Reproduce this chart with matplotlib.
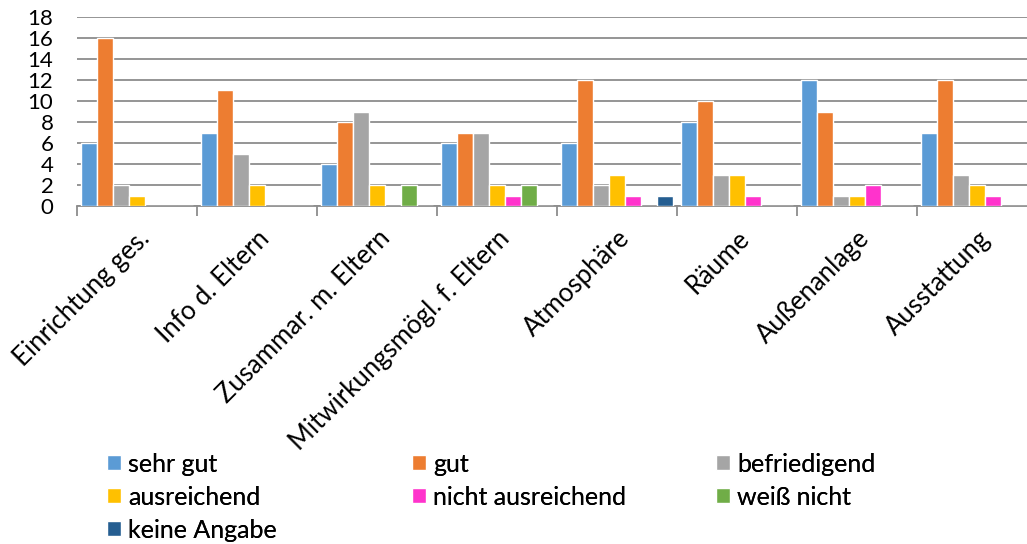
import matplotlib.pyplot as plt
import numpy as np

plt.rcParams['font.family'] = ['Lato', 'DejaVu Sans']

categories = ['Einrichtung ges.', 'Info d. Eltern', 'Zusammar. m. Eltern',
              'Mitwirkungsmögl. f. Eltern', 'Atmosphäre', 'Räume',
              'Außenanlage', 'Ausstattung']
series = ['sehr gut', 'gut', 'befriedigend', 'ausreichend',
          'nicht ausreichend', 'weiß nicht', 'keine Angabe']
sehr_gut = [6, 7, 4, 6, 6, 8, 12, 7]
gut = [16, 11, 8, 7, 12, 10, 9, 12]
befriedigend = [2, 5, 9, 7, 2, 3, 1, 3]
ausreichend = [1, 2, 2, 2, 3, 3, 1, 2]
nicht_ausreichend = [0, 0, 0, 1, 1, 1, 2, 1]
weiss_nicht = [0, 0, 2, 2, 0, 0, 0, 0]
keine_angabe = [0, 0, 0, 0, 1, 0, 0, 0]
values = [sehr_gut, gut, befriedigend, ausreichend,
          nicht_ausreichend, weiss_nicht, keine_angabe]
colors = ['#5B9BD5', '#ED7D31', '#A5A5A5', '#FFC000', '#FF33CC', '#70AD47', '#255E91']

fig = plt.figure(figsize=(10.27, 5.44), dpi=100)
ax = fig.add_axes([0.075, 0.621, 0.935, 0.348])

x = np.arange(len(categories))
slot = 0.133
handles = []
for i, (name, vals, c) in enumerate(zip(series, values, colors)):
    off = (i - 3) * slot
    h = ax.bar(x + off, vals, width=slot, color=c, edgecolor='white',
               linewidth=1.0, label=name, zorder=3)
    handles.append(h)

ax.set_xlim(-0.5, len(categories) - 0.5)
ax.set_ylim(0, 18)
ax.set_yticks(range(0, 19, 2))
ax.yaxis.grid(True, color='#8C8C8C', linewidth=1.3, zorder=0)
ax.tick_params(axis='y', length=0, labelsize=16, pad=17)
for s in ['left', 'right', 'top']:
    ax.spines[s].set_visible(False)
ax.spines['bottom'].set_color('#8C8C8C')
ax.spines['bottom'].set_linewidth(1.3)

ax.set_xticks(x)
ax.set_xticklabels(categories, rotation=45, ha='right', rotation_mode='anchor', fontsize=18.5)
ax.tick_params(axis='x', which='major', length=0, pad=14)
ax.set_xticks(np.arange(-0.5, len(categories) + 0.5, 1), minor=True)
ax.tick_params(axis='x', which='minor', length=7, color='#8C8C8C', width=1.3)

# legend in three columns, filled row by row
columns = [[0, 3, 6], [1, 4], [2, 5]]
col_x = [0.104, 0.401, 0.697]
for idx, xpos in zip(columns, col_x):
    leg = fig.legend([handles[k] for k in idx], [series[k] for k in idx],
                     loc='upper left', bbox_to_anchor=(xpos, 0.168),
                     frameon=False, fontsize=18, handlelength=0.55, handleheight=0.55,
                     handletextpad=0.3, labelspacing=0.4,
                     borderaxespad=0, borderpad=0)
    fig.add_artist(leg)

fig.savefig('out.png', dpi=100)
